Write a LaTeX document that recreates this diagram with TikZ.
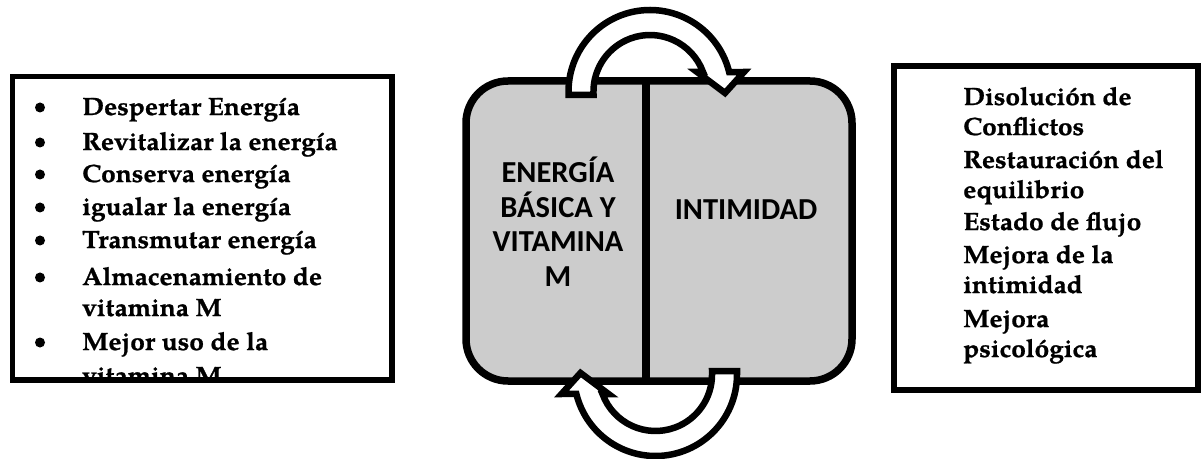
\documentclass[tikz,border=0pt]{standalone}
\usepackage{fontspec}
\newfontfamily\palbold{texgyrepagella-bold.otf}[FakeBold=0.9, FakeStretch=1.05]
\newfontfamily\calib{Carlito}
\begin{document}
\begin{tikzpicture}[x=1pt,y=1pt]
\useasboundingbox (0,0) rectangle (1201,458);
\tikzset{
  frame/.style={draw=black, line width=5.5pt, inner sep=0pt},
  itemtxt/.style={anchor=base west, inner sep=0pt, font=\palbold\fontsize{25}{28}\selectfont},
  centxt/.style={anchor=base, inner sep=0pt, font=\calib\bfseries\fontsize{30.5}{34}\selectfont},
  bigbox/.style={draw=black, fill=black!20, line width=7.5pt, rounded corners=42pt},
  bentarrow/.style={draw=black, fill=white, line width=6.5pt, line join=miter},
  bul/.style={fill=black}
}
\def\curvedarrow{(568.5,363) -- (568.5,366.5) arc[start angle=180, end angle=13.8, radius=81.5]
  -- (744,386) -- (725,365) -- (697,386) -- (703,386)
  arc[start angle=20.2, end angle=180, radius=56.5] -- (593.5,363) -- cycle}

% left list
\begin{scope}
\clip (15.5,81) rectangle (389,378.5);
\foreach \b/\t [count=\i] in {343/Despertar Energía, 308/Revitalizar la energía, 276/Conserva energía, 243/igualar la energía, 210/Transmutar energía, 173/Almacenamiento de, 108/Mejor uso de la}{
  \fill[bul] (40,\b+7.5) circle (5);
  \node[itemtxt] (l\i) at (82,\b) {\t};
}
\node[itemtxt] (l8) at (82,142) {vitamina M};
\node[itemtxt] (l9) at (82,74) {vitamina M};
\end{scope}
\node[frame, minimum width=379.5pt, minimum height=303.5pt] (L) at (202.25,229.75) {};

% right list
\foreach \b/\t [count=\i] in {353/Disolución de, 323/Conflictos, 290/Restauración del, 260/equilibrio, 228/Estado de flujo, 195/Mejora de la, 165/intimidad, 131/Mejora, 101/psicológica}{
  \node[itemtxt] (r\i) at (963,\b) {\t};
}
\node[frame, minimum width=304pt, minimum height=324pt] (R) at (1046,230) {};

% centre block
\draw[bigbox] (466,77) rectangle (852,377);
\draw[line width=7.5pt] (646,377) -- (646,77);
\node[centxt] (c1) at (558,275) {ENERGÍA};
\node[centxt] (c2) at (558,240.5) {BÁSICA Y};
\node[centxt] (c3) at (558,206) {VITAMINA};
\node[centxt] (c4) at (558,171.5) {M};
\node[centxt] (c5) at (746,238) {INTIMIDAD};

% curved arrows
\draw[bentarrow] \curvedarrow;
\begin{scope}[rotate around={180:(652.75,225)}]
\draw[bentarrow] \curvedarrow;
\end{scope}
\end{tikzpicture}
\end{document}
